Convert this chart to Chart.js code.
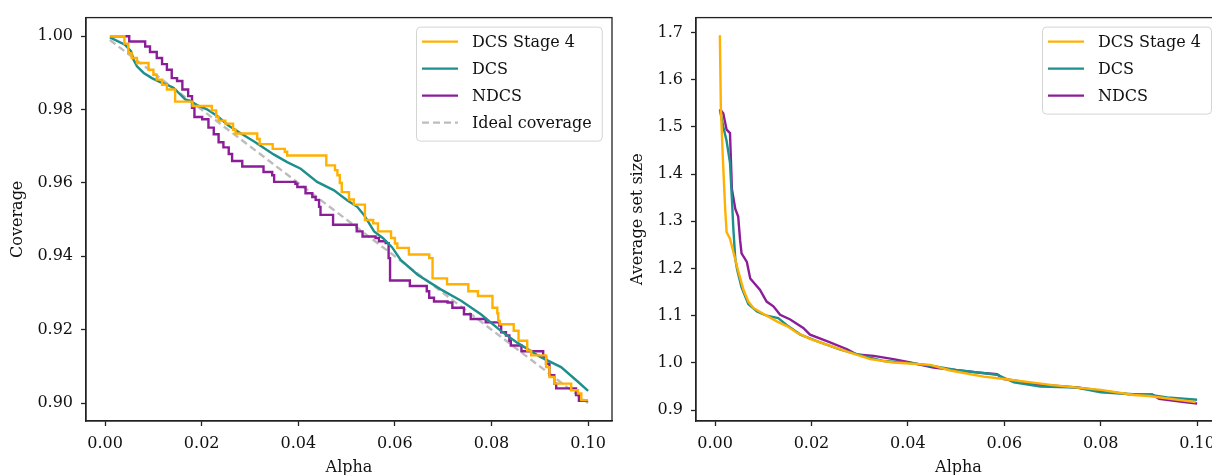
<!DOCTYPE html>
<html>
<head>
<meta charset="utf-8">
<script src="https://cdn.jsdelivr.net/npm/chart.js@4"></script>
<style>
    html, body { margin: 0; padding: 0; background: #fff; overflow: hidden; }
    #wrap { position: relative; width: 1212px; height: 475px; overflow: hidden; }
    canvas { position: absolute; top: 0; }
</style>
</head>
<body>
<div id="wrap">
    <canvas id="chart-coverage" width="620" height="480" style="left:0"></canvas>
    <canvas id="chart-setsize" width="620" height="480" style="left:610px"></canvas>
</div>
<script>
// tick labels
const alphaTicks = [0.00, 0.02, 0.04, 0.06, 0.08, 0.10];
const coverageTicks = [0.90, 0.92, 0.94, 0.96, 0.98, 1.00];
const setSizeTicks = [0.9, 1.0, 1.1, 1.2, 1.3, 1.4, 1.5, 1.6, 1.7];

// coverage vs alpha, [alpha, coverage]
const covStage4 = [
    [0.001, 1.000], [0.004, 0.998], [0.0048, 0.9954], [0.0055, 0.9941], [0.0066, 0.9927],
    [0.009, 0.9909], [0.010, 0.9895], [0.0107, 0.9882], [0.0118, 0.9868], [0.0128, 0.9855],
    [0.0145, 0.9822], [0.0181, 0.981], [0.0221, 0.9798], [0.023, 0.978], [0.0235, 0.977],
    [0.0249, 0.9762], [0.0265, 0.9745], [0.027, 0.9735], [0.0315, 0.972], [0.032, 0.9706],
    [0.0347, 0.9693], [0.0372, 0.9685], [0.0377, 0.9675], [0.0458, 0.9648], [0.0476, 0.9635],
    [0.0481, 0.9621], [0.0486, 0.960], [0.049, 0.9575], [0.0505, 0.9555], [0.0515, 0.9541],
    [0.0538, 0.9499], [0.0555, 0.949], [0.0565, 0.9468], [0.0592, 0.945], [0.060, 0.9435],
    [0.0605, 0.9423], [0.0629, 0.9405], [0.0671, 0.9395], [0.0678, 0.934], [0.0708, 0.9324],
    [0.0752, 0.9305], [0.0772, 0.9292], [0.0802, 0.926], [0.0812, 0.9245], [0.0814, 0.9224],
    [0.0817, 0.9215], [0.0846, 0.9197], [0.0856, 0.917], [0.0874, 0.9143], [0.0882, 0.913],
    [0.0913, 0.9098], [0.092, 0.9071], [0.093, 0.9053], [0.0965, 0.9035], [0.0979, 0.9026],
    [0.0986, 0.9008], [0.100, 0.9008]
];
const covDCS = [
    [0.001, 0.9997], [0.0041, 0.9977], [0.0054, 0.9959], [0.0059, 0.9936], [0.0066, 0.9918],
    [0.008, 0.990], [0.0097, 0.9886], [0.0114, 0.9875], [0.0128, 0.9868], [0.0142, 0.9859],
    [0.0156, 0.9841], [0.0166, 0.9828], [0.0176, 0.9824], [0.0194, 0.981], [0.0211, 0.9801],
    [0.0232, 0.9783], [0.0256, 0.9756], [0.0284, 0.9733], [0.0311, 0.9711], [0.0335, 0.969],
    [0.0349, 0.9678], [0.0377, 0.9657], [0.0405, 0.9639], [0.0439, 0.9603], [0.0474, 0.958],
    [0.0501, 0.9553], [0.0522, 0.9535], [0.0536, 0.9513], [0.0557, 0.9468], [0.0575, 0.945],
    [0.0594, 0.9425], [0.0612, 0.939], [0.0647, 0.935], [0.0695, 0.931], [0.0737, 0.9279],
    [0.0778, 0.9242], [0.082, 0.9196], [0.0854, 0.9164], [0.0902, 0.9125], [0.0944, 0.9098],
    [0.0979, 0.9058], [0.100, 0.9033]
];
const covNDCS = [
    [0.001, 1.000], [0.005, 0.9986], [0.0083, 0.9972], [0.0093, 0.9957], [0.0107, 0.9941],
    [0.0118, 0.9924], [0.0128, 0.9909], [0.0138, 0.9886], [0.0149, 0.9878], [0.016, 0.9855],
    [0.0172, 0.9837], [0.018, 0.9805], [0.0185, 0.978], [0.0201, 0.9774], [0.0214, 0.9751],
    [0.0225, 0.9733], [0.0235, 0.9711], [0.0245, 0.9697], [0.0256, 0.9679], [0.0263, 0.966],
    [0.0284, 0.9645], [0.0328, 0.963], [0.0346, 0.9621], [0.035, 0.9603], [0.0394, 0.9598],
    [0.0398, 0.9589], [0.0415, 0.9572], [0.0429, 0.9562], [0.0436, 0.9554], [0.0443, 0.9535],
    [0.0446, 0.9513], [0.0472, 0.9486], [0.0521, 0.9468], [0.0533, 0.9454], [0.056, 0.945],
    [0.0567, 0.9441], [0.0581, 0.9436], [0.0587, 0.9395], [0.059, 0.9334], [0.0631, 0.9319],
    [0.0666, 0.9305], [0.0671, 0.9287], [0.0681, 0.9277], [0.0709, 0.9274], [0.0719, 0.926],
    [0.0743, 0.9242], [0.0757, 0.9229], [0.0788, 0.922], [0.0816, 0.9211], [0.082, 0.9193],
    [0.083, 0.9184], [0.0837, 0.917], [0.084, 0.9157], [0.0862, 0.9141], [0.0907, 0.9125],
    [0.0913, 0.9107], [0.092, 0.9076], [0.093, 0.9053], [0.0934, 0.904], [0.0975, 0.9022],
    [0.0981, 0.9006], [0.100, 0.9006]
];
const covIdeal = [[0.001, 0.999], [0.100, 0.900]];

// average set size vs alpha, [alpha, size]
const sizeStage4 = [
    [0.001, 1.694], [0.0012, 1.543], [0.0016, 1.438], [0.0021, 1.326], [0.0024, 1.277],
    [0.0031, 1.263], [0.0038, 1.235], [0.0048, 1.195], [0.0059, 1.155], [0.0069, 1.130],
    [0.008, 1.116], [0.010, 1.104], [0.0128, 1.088], [0.0149, 1.078], [0.017, 1.064],
    [0.0197, 1.051], [0.0239, 1.036], [0.028, 1.022], [0.0322, 1.008], [0.037, 1.001],
    [0.0447, 0.996], [0.0488, 0.984], [0.0557, 0.971], [0.060, 0.966], [0.070, 0.953],
    [0.080, 0.943], [0.0869, 0.932], [0.090, 0.930], [0.0997, 0.917]
];
const sizeDCS = [
    [0.001, 1.536], [0.0017, 1.501], [0.0024, 1.470], [0.0031, 1.424], [0.0035, 1.347],
    [0.0038, 1.284], [0.0042, 1.220], [0.0046, 1.197], [0.0055, 1.160], [0.0069, 1.125],
    [0.0087, 1.109], [0.0107, 1.100], [0.0131, 1.095], [0.0149, 1.080], [0.0177, 1.060],
    [0.0211, 1.046], [0.026, 1.028], [0.0308, 1.015], [0.035, 1.004], [0.0405, 1.000],
    [0.0447, 0.994], [0.050, 0.985], [0.0585, 0.975], [0.062, 0.959], [0.0675, 0.950],
    [0.075, 0.948], [0.080, 0.938], [0.091, 0.931], [0.0938, 0.927], [0.100, 0.922]
];
const sizeNDCS = [
    [0.001, 1.538], [0.0017, 1.529], [0.0024, 1.494], [0.0031, 1.487], [0.0035, 1.368],
    [0.0042, 1.326], [0.0048, 1.310], [0.0052, 1.260], [0.0055, 1.232], [0.0066, 1.214],
    [0.0073, 1.179], [0.0093, 1.155], [0.0107, 1.130], [0.0121, 1.120], [0.0135, 1.102],
    [0.0156, 1.092], [0.0183, 1.074], [0.0197, 1.060], [0.0232, 1.046], [0.0274, 1.029],
    [0.0294, 1.018], [0.0329, 1.015], [0.037, 1.008], [0.0405, 1.001], [0.0453, 0.990],
    [0.0516, 0.983], [0.0543, 0.980], [0.0585, 0.976], [0.0599, 0.966], [0.0627, 0.962],
    [0.0661, 0.955], [0.0689, 0.953], [0.0751, 0.948], [0.080, 0.941], [0.0855, 0.934],
    [0.0907, 0.933], [0.0921, 0.924], [0.0973, 0.917], [0.100, 0.914]
];

const ORANGE = '#ffb000';
const TEAL = '#1d8f8c';
const PURPLE = '#8c1d98';
const GREY = '#bdbdbd';
const FONT = '"DejaVu Serif", serif';
const INK = '#111';

// draws the frame round the plot and a matplotlib-style legend box
const boxLegend = {
    id: 'boxLegend',
    afterDatasetsDraw(chart) {
        const { ctx, chartArea } = chart;
        const items = chart.data.datasets;
        ctx.save();
        ctx.strokeStyle = '#222';
        ctx.lineWidth = 1.3;
        ctx.strokeRect(chartArea.left, chartArea.top, chartArea.right - chartArea.left, chartArea.bottom - chartArea.top);

        ctx.font = '16px ' + FONT;
        const textW = Math.max(...items.map(d => ctx.measureText(d.label).width));
        const w = 56 + textW + 10;
        const h = 15 + (items.length - 1) * 27 + 18;
        const x = Math.round(chartArea.right - 10 - w);
        const y = chartArea.top + 9;
        ctx.fillStyle = 'rgba(255,255,255,0.8)';
        ctx.strokeStyle = '#d4d4d4';
        ctx.lineWidth = 1;
        ctx.beginPath();
        ctx.roundRect(x + 0.5, y + 0.5, w, h, 4);
        ctx.fill();
        ctx.stroke();
        items.forEach((d, i) => {
            const cy = y + 15 + i * 27;
            ctx.strokeStyle = d.borderColor;
            ctx.lineWidth = 2.4;
            ctx.setLineDash(d.borderDash || []);
            ctx.beginPath();
            ctx.moveTo(x + 6, cy);
            ctx.lineTo(x + 42, cy);
            ctx.stroke();
            ctx.setLineDash([]);
            ctx.fillStyle = INK;
            ctx.textBaseline = 'middle';
            ctx.fillText(d.label, x + 56, cy + 1);
        });
        ctx.restore();
    }
};

function series(label, pts, color, extra) {
    return Object.assign({
        label: label,
        data: pts.map(p => ({ x: p[0], y: p[1] })),
        borderColor: color,
        borderWidth: 2.4,
        pointRadius: 0,
        fill: false,
        tension: 0
    }, extra || {});
}

function axis(title, ticks, decimals, extra) {
    return Object.assign({
        type: 'linear',
        afterBuildTicks: a => { a.ticks = ticks.map(v => ({ value: v })); },
        ticks: {
            callback: v => Number(v).toFixed(decimals),
            font: { family: FONT, size: 16 },
            color: INK,
            padding: 8,
            autoSkip: false,
            maxRotation: 0
        },
        grid: { drawOnChartArea: false, drawTicks: true, tickLength: 5, tickColor: '#222', tickWidth: 1.3 },
        border: { color: '#222', width: 1.3 },
        title: { display: true, text: title, color: INK, font: { family: FONT, size: 16 }, padding: { top: 4, bottom: 3 } }
    }, extra);
}

function renderChart(canvasId, datasets, yTitle, yTicks, yDecimals, yMin, yMax, padLeft, padRight) {
    const ctx = document.getElementById(canvasId).getContext('2d');
    new Chart(ctx, {
        type: 'line',
        data: { datasets: datasets },
        options: {
            responsive: false,
            animation: false,
            layout: { padding: { left: padLeft, right: padRight, top: 14, bottom: 0 } },
            plugins: { legend: { display: false }, tooltip: { enabled: false } },
            scales: {
                x: axis('Alpha', alphaTicks, 2, { min: -0.00395, max: 0.10495, afterFit: a => { a.height = 59; } }),
                y: axis(yTitle, yTicks, yDecimals, { min: yMin, max: yMax, afterFit: a => { a.width = 86 - padLeft; } })
            }
        },
        plugins: [boxLegend]
    });
}

renderChart('chart-coverage', [
    series('DCS Stage 4', covStage4, ORANGE, { stepped: 'before' }),
    series('DCS', covDCS, TEAL),
    series('NDCS', covNDCS, PURPLE, { stepped: 'before' }),
    series('Ideal coverage', covIdeal, GREY, { borderDash: [7, 4] })
], 'Coverage', coverageTicks, 2, 0.8951, 1.0051, 4, 8);

renderChart('chart-setsize', [
    series('DCS Stage 4', sizeStage4, ORANGE),
    series('DCS', sizeDCS, TEAL),
    series('NDCS', sizeNDCS, PURPLE)
], 'Average set size', setSizeTicks, 1, 0.877, 1.7315, 14, 9);
</script>
</body>
</html>
